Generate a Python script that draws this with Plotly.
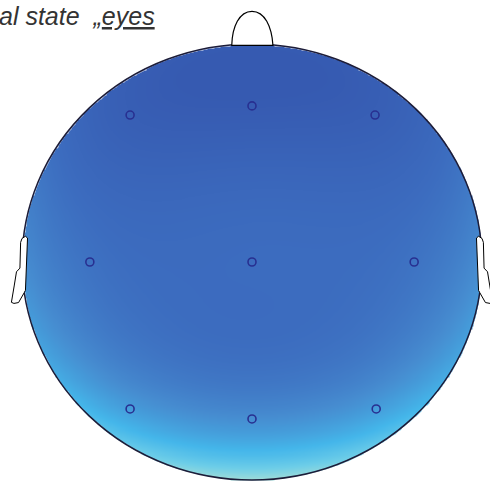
import numpy as np
import plotly.graph_objects as go

# ---- data ----
electrodes = ["F3", "Fz", "F4", "T3", "Cz", "T4", "P3", "Pz", "P4"]
elec_x = [-0.53, 0.0, 0.535, -0.705, 0.0, 0.705, -0.53, 0.0, 0.54]
elec_y = [0.674, 0.716, 0.674, 0.0, 0.0, 0.0, -0.674, -0.72, -0.674]
elec_val = [0.03, 0.02, 0.03, 0.2, 0.14, 0.21, 0.42, 0.4, 0.42]

# values read at the scalp rim (angle in degrees, counter-clockwise from right)
rim_angle = [90, 60, 120, 30, 150, 0, 180, -20, 200, -40, 220, -60, 240, -75, 255, -90]
rim_val = [0.0, 0.04, 0.04, 0.18, 0.18, 0.33, 0.33, 0.5, 0.5, 0.63, 0.63, 0.76, 0.76, 0.9, 0.9, 1.0]

title_text = "al state\u00a0\u00a0\u201e<u>eyes</u>"

colorscale = [
    [0.0, "rgb(54,90,177)"],
    [0.15, "rgb(60,108,191)"],
    [0.35, "rgb(70,140,208)"],
    [0.6, "rgb(68,182,234)"],
    [0.8, "rgb(110,206,232)"],
    [1.0, "rgb(172,224,212)"],
]

# ---- smooth surface: least-squares polynomial (degree 4) through electrode + rim values ----
px = np.array(elec_x + list(np.cos(np.radians(rim_angle))))
py = np.array(elec_y + list(np.sin(np.radians(rim_angle))))
pv = np.array(elec_val + rim_val)

deg = 4
terms = [(i, j) for i in range(deg + 1) for j in range(deg + 1 - i)]


def design(x, y):
    return np.stack([x ** i * y ** j for i, j in terms], axis=-1)


Dm = design(px, py)
lam = 1e-3
coef = np.linalg.solve(Dm.T @ Dm + lam * np.eye(len(terms)), Dm.T @ pv)

n = 420
gx = np.linspace(-1, 1, n)
gy = np.linspace(-1, 1, n)
GX, GY = np.meshgrid(gx, gy)
Z = design(GX, GY) @ coef
Z = np.clip(Z, 0, 1)
Z[GX ** 2 + GY ** 2 > 1.0] = np.nan

fig = go.Figure()
fig.add_trace(go.Heatmap(x=gx, y=gy, z=Z, colorscale=colorscale, zmin=0, zmax=1,
                         zsmooth="best", showscale=False, hoverinfo="skip"))
fig.add_trace(go.Scatter(x=elec_x, y=elec_y, mode="markers", text=electrodes,
                         marker=dict(symbol="circle-open", size=8,
                                     color="rgb(40,48,145)", line=dict(width=1.6)),
                         hoverinfo="text", showlegend=False))

# head outline, nose, ears
fig.add_shape(type="circle", x0=-1, x1=1, y0=-1, y1=1,
              line=dict(color="#1c1c38", width=1.5))
fig.add_shape(type="path",
              path="M -0.088,0.994 C -0.086,1.08 -0.055,1.15 0,1.15 "
                   "C 0.055,1.15 0.086,1.08 0.091,0.994 Z",
              fillcolor="white", line=dict(color="black", width=1.2))
ear = [(-0.976, 0.11), (-0.985, 0.118), (-1.0, 0.108), (-1.006, 0.09),
       (-1.009, -0.028), (-1.024, -0.045), (-1.034, -0.11), (-1.046, -0.185),
       (-1.035, -0.19), (-1.015, -0.186), (-0.99, -0.14), (-0.985, -0.13)]
for sgn in (1, -1):
    pts = [(sgn * x, y) for x, y in ear]
    path = "M " + " L ".join(f"{x:.3f},{y:.3f}" for x, y in pts) + " Z"
    fig.add_shape(type="path", path=path, fillcolor="white",
                  line=dict(color="black", width=1))

fig.add_annotation(text=f"<i>{title_text}</i>", xref="paper", yref="paper",
                   x=157 / 490, y=1 - 16 / 481, xanchor="right", yanchor="middle",
                   showarrow=False,
                   font=dict(family="Liberation Sans, Arial", size=25, color="#333333"))

fig.update_xaxes(range=[-252 / 230, (490 - 252) / 230], visible=False)
fig.update_yaxes(range=[-(481 - 262) / 218, 262 / 218], visible=False)
fig.update_layout(width=490, height=481, margin=dict(l=0, r=0, t=0, b=0),
                  paper_bgcolor="white", plot_bgcolor="white", showlegend=False)

fig.write_html("out.html", config={"displayModeBar": False},
               post_script="document.body.style.margin='0';document.body.style.overflow='hidden';")
